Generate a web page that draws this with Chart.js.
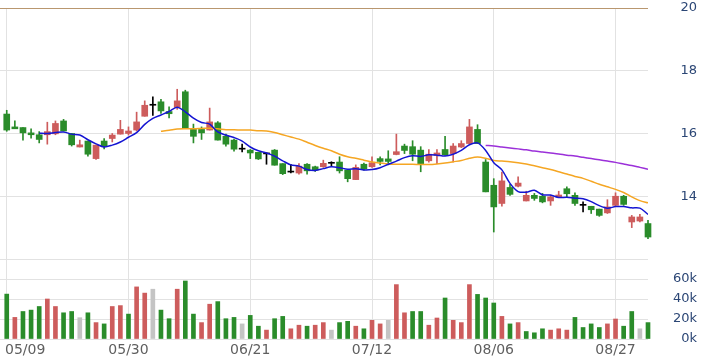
<!DOCTYPE html>
<html>
<head>
<meta charset="utf-8">
<script src="https://cdn.jsdelivr.net/npm/chart.js@4.4.1/dist/chart.umd.min.js"></script>
<style>
  html, body { margin: 0; padding: 0; background: #fff; }
  #wrap { position: relative; width: 706px; height: 362px; }
  #priceBox { position: absolute; left: 0; top: 0; width: 706px; height: 262px; }
  #volBox { position: absolute; left: 0; top: 256px; width: 706px; height: 106px; }
</style>
</head>
<body>
<div id="wrap">
  <div id="priceBox"><canvas id="priceChart"></canvas></div>
  <div id="volBox"><canvas id="volChart"></canvas></div>
</div>
<script>
// daily candles, index 0..79
const opens = [16.62, 16.21, 16.19, 16.02, 15.96, 15.96, 15.99, 16.40, 16.00, 15.57,
  15.76, 15.20, 15.76, 15.84, 15.98, 16.00, 16.11, 16.55, 16.90, 17.01,
  16.70, 16.83, 17.33, 16.13, 16.13, 16.11, 16.34, 15.91, 15.79, 15.50,
  15.47, 15.40, 15.35, 15.47, 15.04, 14.77, 14.74, 15.02, 14.94, 14.94,
  15.05, 15.09, 14.83, 14.53, 15.02, 14.94, 15.20, 15.19, 15.33, 15.60,
  15.58, 15.47, 15.13, 15.30, 15.49, 15.36, 15.57, 15.68, 16.13, 15.09,
  14.35, 13.77, 14.28, 14.32, 13.85, 14.03, 14.00, 13.85, 13.98, 14.24,
  14.03, 13.71, 13.68, 13.59, 13.47, 13.71, 14.00, 13.18, 13.21, 13.13]
const highs = [16.74, 16.40, 16.19, 16.15, 16.06, 16.36, 16.40, 16.45, 16.00, 15.79,
  15.76, 15.63, 15.84, 16.00, 16.42, 16.21, 16.68, 17.04, 17.17, 17.09,
  16.85, 17.41, 17.38, 16.30, 16.21, 16.81, 16.38, 15.98, 15.82, 15.66,
  15.49, 15.40, 15.38, 15.49, 15.04, 15.02, 15.04, 15.04, 14.96, 15.15,
  15.10, 15.26, 14.83, 15.00, 15.06, 15.26, 15.26, 15.45, 15.98, 15.66,
  15.77, 15.58, 15.49, 15.49, 15.91, 15.68, 15.77, 16.45, 16.28, 15.17,
  14.56, 14.77, 14.38, 14.62, 14.16, 14.09, 14.09, 14.03, 14.16, 14.30,
  14.11, 13.82, 13.68, 13.59, 13.89, 14.11, 14.03, 13.39, 13.42, 13.23]
const lows = [16.07, 16.15, 15.79, 15.85, 15.70, 15.66, 15.96, 16.08, 15.60, 15.57,
  15.28, 15.17, 15.51, 15.73, 15.98, 15.95, 16.08, 16.55, 16.58, 16.64,
  16.50, 16.77, 16.16, 15.70, 15.81, 16.11, 15.79, 15.60, 15.44, 15.41,
  15.20, 15.17, 15.02, 14.99, 14.69, 14.74, 14.70, 14.70, 14.79, 14.92,
  14.96, 14.74, 14.46, 14.53, 14.83, 14.92, 15.00, 15.00, 15.32, 15.36,
  15.13, 14.78, 15.09, 15.04, 15.30, 15.09, 15.55, 15.66, 15.68, 14.14,
  12.86, 13.68, 14.03, 14.30, 13.85, 13.87, 13.79, 13.71, 13.96, 13.96,
  13.71, 13.50, 13.45, 13.36, 13.45, 13.68, 13.71, 13.00, 13.18, 12.65]
const closes = [16.11, 16.15, 16.02, 15.96, 15.81, 16.06, 16.32, 16.08, 15.64, 15.64,
  15.34, 15.63, 15.60, 15.95, 16.13, 16.08, 16.37, 16.90, 16.90, 16.72,
  16.63, 17.04, 16.16, 15.91, 16.02, 16.37, 15.79, 15.66, 15.50, 15.50,
  15.38, 15.19, 15.35, 14.99, 14.72, 14.77, 14.96, 14.81, 14.83, 15.05,
  15.05, 14.81, 14.56, 14.92, 14.87, 15.07, 15.11, 15.11, 15.42, 15.46,
  15.34, 15.04, 15.34, 15.38, 15.32, 15.60, 15.68, 16.21, 15.68, 14.14,
  13.66, 14.49, 14.06, 14.42, 14.03, 13.93, 13.82, 13.98, 14.04, 14.08,
  13.77, 13.71, 13.57, 13.39, 13.66, 14.00, 13.74, 13.34, 13.34, 12.70]
const volumes = [44900, 21600, 27500, 28900, 32500, 40000, 32500, 26200, 27500, 21300,
  26200, 16400, 15100, 32500, 33400, 24900, 52100, 45900, 49800, 28900,
  20300, 49800, 58000, 24900, 16400, 34800, 37400, 20300, 21600, 15100,
  23600, 12800, 8900, 20300, 22600, 10200, 13800, 12800, 13800, 16400,
  8900, 16400, 17700, 12800, 10200, 18700, 15100, 18700, 54400, 26200,
  27500, 27500, 13800, 21000, 41000, 18700, 16400, 54400, 44600, 41000,
  36000, 22600, 15100, 16400, 7500, 6200, 10200, 8900, 10200, 8900,
  21600, 11500, 15100, 11500, 15100, 20000, 12800, 27500, 10200, 16400]

// moving averages as drawn, each starting at its own index
const ma5Start = 4
const ma5 = [16.01, 16.00, 16.03, 16.05, 15.98, 15.95, 15.80, 15.67, 15.57, 15.63,
  15.73, 15.88, 16.03, 16.29, 16.48, 16.59, 16.70, 16.84, 16.69, 16.49,
  16.35, 16.30, 16.05, 15.95, 15.87, 15.76, 15.57, 15.45, 15.38, 15.28,
  15.13, 15.00, 14.96, 14.85, 14.82, 14.88, 14.94, 14.91, 14.86, 14.88,
  14.84, 14.85, 14.91, 15.02, 15.12, 15.23, 15.29, 15.27, 15.32, 15.31,
  15.28, 15.34, 15.46, 15.64, 15.70, 15.46, 15.07, 14.84, 14.41, 14.15,
  14.13, 14.19, 14.05, 14.04, 13.96, 13.97, 13.94, 13.92, 13.83, 13.70,
  13.62, 13.67, 13.67, 13.63, 13.62, 13.42]
const ma20Start = 19
const ma20 = [16.07, 16.10, 16.14, 16.15, 16.15, 16.16, 16.17, 16.15, 16.12, 16.12,
  16.11, 16.11, 16.09, 16.08, 16.03, 15.96, 15.89, 15.82, 15.72, 15.62,
  15.53, 15.45, 15.34, 15.26, 15.21, 15.15, 15.09, 15.06, 15.03, 15.02,
  15.02, 15.02, 15.01, 15.01, 15.03, 15.06, 15.10, 15.14, 15.21, 15.25,
  15.21, 15.14, 15.12, 15.10, 15.07, 15.03, 14.97, 14.91, 14.85, 14.78,
  14.71, 14.63, 14.57, 14.48, 14.38, 14.30, 14.22, 14.12, 13.98, 13.86,
  13.79]
const ma60Start = 59
const ma60 = [15.62, 15.60, 15.57, 15.54, 15.51, 15.48, 15.44, 15.41, 15.38, 15.35,
  15.31, 15.28, 15.24, 15.20, 15.16, 15.12, 15.08, 15.03, 14.98, 14.92,
  14.86]

const tickIdx = [0, 15, 30, 45, 60, 75]
const tickLabels = ['05/09', '05/30', '06/21', '07/12', '08/06', '08/27']
const priceTicks = [12, 14, 16, 18, 20]
const volTicks = [0, 20000, 40000, 60000, 80000]

const UP = '#cd5c5c'
const DOWN = '#2a8c2a'
const FLAT = '#c4c4c4'
const GRID = '#e2e2e2'

Chart.defaults.font.family = 'DejaVu Sans'
Chart.defaults.animation = false

const candleColor = opens.map((o, i) => closes[i] > o ? UP : closes[i] < o ? DOWN : '#000')
const volColor = closes.map((c, i) => {
  const prev = i === 0 ? opens[0] : closes[i - 1]
  return c > prev ? UP : c < prev ? DOWN : FLAT
})

const xMin = -0.83
const xMax = 79

// fixed axis sizes, no extra label padding pushed into the layout
const fitY = s => { s.width = 49; s.paddingTop = 0; s.paddingBottom = 0 }

function xAxis (labels) {
  return {
    type: 'linear',
    min: xMin,
    max: xMax,
    offset: false,
    afterBuildTicks: s => { s.ticks = tickIdx.map(v => ({ value: v })) },
    afterFit: s => { s.height = labels ? 23 : 0; s.paddingLeft = 0; s.paddingRight = 0 },
    grid: { color: GRID, drawTicks: false, offset: false },
    border: { display: false },
    ticks: {
      display: labels,
      padding: 3,
      autoSkip: false,
      maxRotation: 0,
      color: '#5f5f5f',
      font: { size: 14 },
      callback: v => tickLabels[tickIdx.indexOf(v)]
    }
  }
}

const line = (vals, start, color) => ({
  type: 'line',
  data: vals.map((v, k) => ({ x: k + start, y: v })),
  borderColor: color,
  borderWidth: 1.5,
  pointRadius: 0,
  tension: 0.3,
  order: 0
})

const common = {
  responsive: true,
  maintainAspectRatio: false,
  devicePixelRatio: 1
}

new Chart(document.getElementById('priceChart'), {
  type: 'bar',
  data: {
    datasets: [
      line(ma5, ma5Start, '#1414d2'),
      line(ma20, ma20Start, '#f5a623'),
      line(ma60, ma60Start, '#9b30d9'),
      {
        data: opens.map((o, i) => ({ x: i, y: [o, closes[i]] })),
        backgroundColor: candleColor,
        barThickness: 6,
        minBarLength: 1,
        grouped: false,
        clip: false,
        order: 1
      },
      {
        data: lows.map((l, i) => ({ x: i, y: [l, highs[i]] })),
        backgroundColor: candleColor,
        barThickness: 1,
        grouped: false,
        clip: false,
        order: 2
      }
    ]
  },
  options: {
    ...common,
    layout: { padding: { top: 8, bottom: 3, left: 0, right: 9 } },
    scales: {
      x: xAxis(false),
      y: {
        position: 'right',
        min: 12,
        max: 20,
        afterFit: fitY,
        afterBuildTicks: s => { s.ticks = priceTicks.map(v => ({ value: v })) },
        grid: { drawTicks: false, color: c => c.tick.value === 20 ? '#b9976f' : GRID },
        border: { display: false },
        ticks: {
          crossAlign: 'far',
          color: '#2b4675',
          font: { size: 13 },
          callback: v => v === 12 ? '' : v
        }
      }
    },
    plugins: {
      legend: { display: false },
      tooltip: { enabled: false }
    }
  }
})

const shiftFirstLabel = {
  id: 'shiftFirstLabel',
  beforeDraw (chart) {
    const items = chart.scales.x.getLabelItems(chart.chartArea)
    if (items.length) {
      items[0].options.textAlign = 'left'
      items[0].options.translation[0] = 5
    }
  }
}

new Chart(document.getElementById('volChart'), {
  type: 'bar',
  data: {
    datasets: [{
      data: volumes.map((v, i) => ({ x: i, y: v })),
      backgroundColor: volColor,
      barThickness: 4,
      grouped: false,
      clip: false
    }]
  },
  options: {
    ...common,
    layout: { padding: { top: 3, bottom: 0, left: 0, right: 9 } },
    scales: {
      x: xAxis(true),
      y: {
        position: 'right',
        min: 0,
        max: 80000,
        afterFit: fitY,
        afterBuildTicks: s => { s.ticks = volTicks.map(v => ({ value: v })) },
        grid: { drawTicks: false, color: GRID },
        border: { display: false },
        ticks: {
          crossAlign: 'far',
          color: '#2b4675',
          font: { size: 13 },
          callback: v => v === 80000 ? '' : (v / 1000) + 'k'
        }
      }
    },
    plugins: {
      legend: { display: false },
      tooltip: { enabled: false }
    }
  },
  plugins: [shiftFirstLabel]
})
</script>
</body>
</html>
